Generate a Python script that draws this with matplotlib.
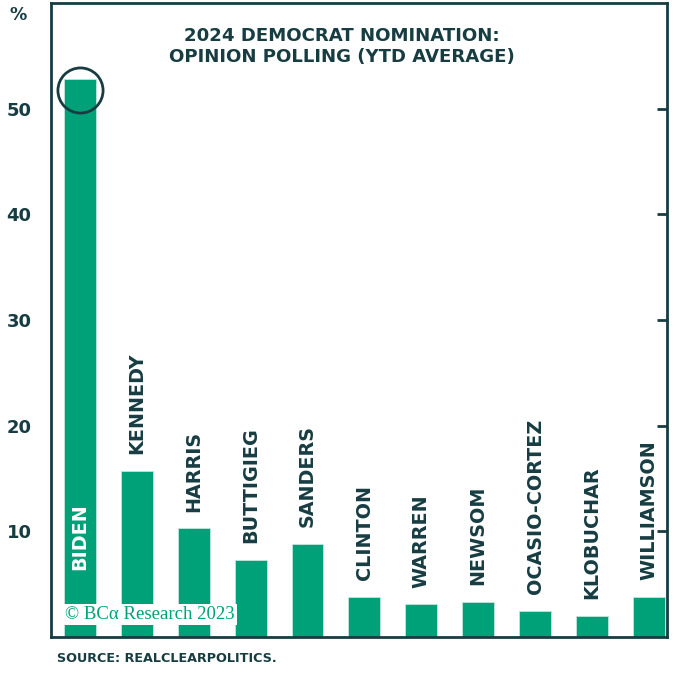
import matplotlib
matplotlib.use('Agg')
import matplotlib.pyplot as plt

# data
names = ['BIDEN', 'KENNEDY', 'HARRIS', 'BUTTIGIEG', 'SANDERS', 'CLINTON',
         'WARREN', 'NEWSOM', 'OCASIO-CORTEZ', 'KLOBUCHAR', 'WILLIAMSON']
values = [52.8, 15.7, 10.3, 7.3, 8.8, 3.8, 3.1, 3.3, 2.5, 2.0, 3.8]
yticks = [10, 20, 30, 40, 50]

green = '#00a078'
dark = '#173d42'

fig = plt.figure(figsize=(6.79, 6.74), dpi=100)
ax = fig.add_axes([0.0751, 0.0549, 0.9072, 0.9406])

x = list(range(len(names)))
ax.bar(x, values, width=0.56, color=green, edgecolor='#bfe6da', linewidth=0.6)
ax.set_xlim(-0.51, 10.32)
ax.set_ylim(0, 60)

# names: inside the first bar, above the others
for i, (n, v) in enumerate(zip(names, values)):
    if i == 0:
        ax.annotate(n, (i, 0), xytext=(0, 48), textcoords='offset points',
                    rotation=90, ha='center', va='bottom', color='white',
                    fontsize=13.8, fontweight='bold')
    else:
        ax.annotate(n, (i, v), xytext=(0, 12), textcoords='offset points',
                    rotation=90, ha='center', va='bottom', color=dark,
                    fontsize=13.8, fontweight='bold')

# circle around the top of the Biden bar
ax.plot(0, 51.8, marker='o', ms=32.5, mfc='none', mec=dark, mew=2)

ax.set_xticks([])
ax.set_yticks(yticks)
ax.tick_params(axis='y', which='both', left=False, right=True, direction='in',
               length=7, width=2, color=dark, labelsize=13, labelcolor=dark, pad=14)
for lab in ax.get_yticklabels():
    lab.set_fontweight('bold')
for s in ax.spines.values():
    s.set_color(dark)
    s.set_linewidth(2)

fig.text(0.027, 0.978, '%', fontsize=12.5, fontweight='bold', color=dark,
         ha='center', va='center')
fig.text(0.504, 0.96, '2024 DEMOCRAT NOMINATION:\nOPINION POLLING (YTD AVERAGE)',
         ha='center', va='top', fontsize=13.1,
         fontweight='bold', color=dark, linespacing=1.25)
fig.text(0.084, 0.013, 'SOURCE: REALCLEARPOLITICS.', fontsize=9.2,
         fontweight='bold', color=dark, ha='left', va='bottom')
ax.text(0.023, 0.036, '\u00a9 BC\u03b1 Research 2023', transform=ax.transAxes,
        fontsize=13.5, family='Liberation Serif', color=green, ha='left', va='center',
        bbox=dict(facecolor='white', edgecolor='none', pad=1.5))

fig.savefig('out.png', dpi=100)
